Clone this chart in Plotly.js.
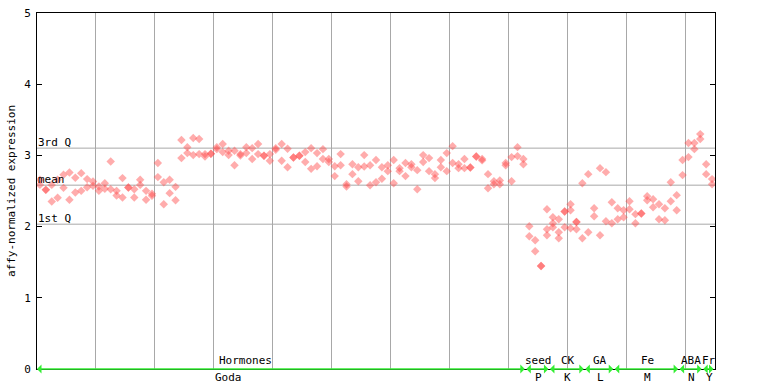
<!DOCTYPE html>
<html>
<head>
<meta charset="utf-8">
<script src="https://cdn.plot.ly/plotly-3.0.1.min.js"></script>
<style>html,body{margin:0;padding:0;background:#fff;}#chart{width:768px;height:384px;}</style>
</head>
<body>
<div id="chart"></div>
<script>
// replicate A values per sample (115 samples)
const repA = [
2.657,2.516,2.586,2.657,2.727,2.759,2.685,2.751,2.667,2.633,
2.563,2.610,2.914,2.502,2.681,2.550,2.526,2.657,2.502,2.460,
2.892,2.624,2.657,2.558,3.215,3.116,3.243,3.229,3.018,3.022,
3.116,3.159,3.064,3.064,3.018,3.116,3.102,3.159,2.994,3.018,
3.102,3.159,3.093,2.970,2.994,3.046,3.102,3.032,3.088,2.948,
2.849,3.018,2.596,2.877,2.835,3.004,2.863,2.934,2.835,2.863,
2.934,2.821,2.892,2.877,2.793,3.004,2.962,2.737,2.934,3.032,
3.130,2.877,2.948,2.830,2.984,2.948,2.737,2.638,2.647,2.892,
2.976,3.116,2.948,2.006,1.809,1.448,2.245,2.132,2.104,2.211,
2.315,2.066,2.610,2.737,2.259,2.821,2.765,2.343,2.259,2.231,
2.357,2.175,2.183,2.428,2.385,2.315,2.259,2.624,2.442,2.934,
3.173,3.173,3.299,2.877,2.667
];
// replicate B values per sample
const repB = [
2.586,2.516,2.352,2.404,2.544,2.376,2.478,2.502,2.554,2.572,
2.502,2.530,2.526,2.436,2.408,2.550,2.408,2.586,2.376,2.432,
2.695,2.315,2.470,2.371,2.962,3.032,3.004,3.018,2.984,3.022,
3.088,3.046,3.004,2.863,3.000,3.032,2.948,3.018,2.994,2.924,
3.080,2.924,2.835,2.970,2.994,2.906,2.811,2.849,2.948,2.906,
2.709,2.863,2.563,2.737,2.638,2.844,2.582,2.624,2.671,2.779,
2.610,2.779,2.709,2.835,2.526,2.906,2.779,2.681,2.835,2.779,
2.892,2.821,2.821,2.830,2.984,2.930,2.540,2.596,2.596,2.863,
2.638,2.990,2.877,1.865,1.654,1.448,1.964,2.048,1.922,2.211,
2.231,2.066,1.837,1.922,2.146,1.879,2.076,2.048,2.104,2.132,
2.245,2.048,2.183,2.371,2.273,2.104,2.090,2.357,2.231,2.723,
2.976,3.088,3.229,2.737,2.596
];
// additional replicate values in the seed / CK samples
const extraSample = [86,87,88,89,90,91];
const extraVal = [1.879,1.992,1.837,1.992,1.978,1.964];

const quartileNames = ["3rd Q","mean","1st Q"];
const quartileVals = [3.102,2.582,2.034];

const groupNames = ["Hormones","seed","CK","GA","Fe","ABA","Fr"];
const groupCodes = ["Goda","P","K","L","M","N","Y"];
const groupStart = [0,83,87,93,98,109,113];
const groupEnd = [83,87,93,98,109,113,115];

const FONT = "DejaVu Sans Mono, Liberation Mono, monospace";
const red = "rgba(255,70,70,0.45)";
const mk = {symbol: "diamond", size: 6.5, color: red, line: {width: 0}};

const xs = repA.map((_, i) => i + 0.5);
const traces = [
  {x: xs, y: repA, type: "scatter", mode: "markers", hoverinfo: "skip", marker: mk},
  {x: xs, y: repB, type: "scatter", mode: "markers", hoverinfo: "skip", marker: mk},
  {x: extraSample.map(i => i + 0.5), y: extraVal, type: "scatter", mode: "markers", hoverinfo: "skip", marker: mk}
];

const shapes = quartileVals.map(v => ({
  type: "line", xref: "paper", x0: 0, x1: 1, yref: "y", y0: v, y1: v,
  line: {color: "#a8a8a8", width: 1}, layer: "below"
}));

const annotations = [];
quartileNames.forEach((n, i) => annotations.push({
  xref: "paper", x: 0, xanchor: "left", yref: "y", y: quartileVals[i], yanchor: "bottom",
  text: n, showarrow: false, font: {family: FONT, size: 11, color: "#000"}, borderpad: 0, yshift: -2
}));
// label centres
const labelX = groupNames.map((n, i) => (groupStart[i] + groupEnd[i]) / 2);
labelX[0] = 35.3;
const codeX = labelX.slice(); codeX[0] = 32.5;
groupNames.forEach((n, i) => {
  annotations.push({
    xref: "x", x: groupStart[i], yref: "y", y: 0, ax: groupEnd[i], ay: 0, axref: "x", ayref: "y",
    showarrow: true, arrowside: "end+start", arrowhead: 1, arrowsize: 1, arrowwidth: 1.5,
    arrowcolor: "#33ee33", standoff: 0, startstandoff: 0, text: ""
  });
  annotations.push({
    xref: "x", x: labelX[i], yref: "paper", y: 0, yanchor: "bottom", yshift: 1,
    text: n, showarrow: false, font: {family: FONT, size: 11, color: "#000"}, borderpad: 0
  });
  annotations.push({
    xref: "x", x: codeX[i], yref: "paper", y: 0, yanchor: "top", yshift: -1,
    text: groupCodes[i], showarrow: false, font: {family: FONT, size: 11, color: "#000"}, borderpad: 0
  });
});

const layout = {
  width: 768, height: 384,
  margin: {l: 37, r: 53, t: 13, b: 15, pad: 0},
  paper_bgcolor: "#fff", plot_bgcolor: "#fff",
  showlegend: false,
  font: {family: FONT, size: 11, color: "#000"},
  xaxis: {range: [0, 115], tick0: 0, dtick: 10, showgrid: true, gridcolor: "#a8a8a8", gridwidth: 1,
          showticklabels: false, ticks: "", zeroline: false, showline: true, linecolor: "#000",
          linewidth: 1, mirror: true, fixedrange: true},
  yaxis: {range: [0, 5], tick0: 0, dtick: 1, showgrid: false, zeroline: false, ticks: "inside",
          ticklen: 5, tickcolor: "#000", showline: true, linecolor: "#000", linewidth: 1, mirror: "ticks",
          ticklabelstandoff: 3, tickfont: {family: FONT, size: 11, color: "#000"},
          title: {text: "affy-normalized expression", font: {family: FONT, size: 11, color: "#000"}, standoff: 6},
          fixedrange: true},
  shapes: shapes,
  annotations: annotations
};

Plotly.newPlot("chart", traces, layout, {staticPlot: true, displayModeBar: false});
</script>
</body>
</html>
